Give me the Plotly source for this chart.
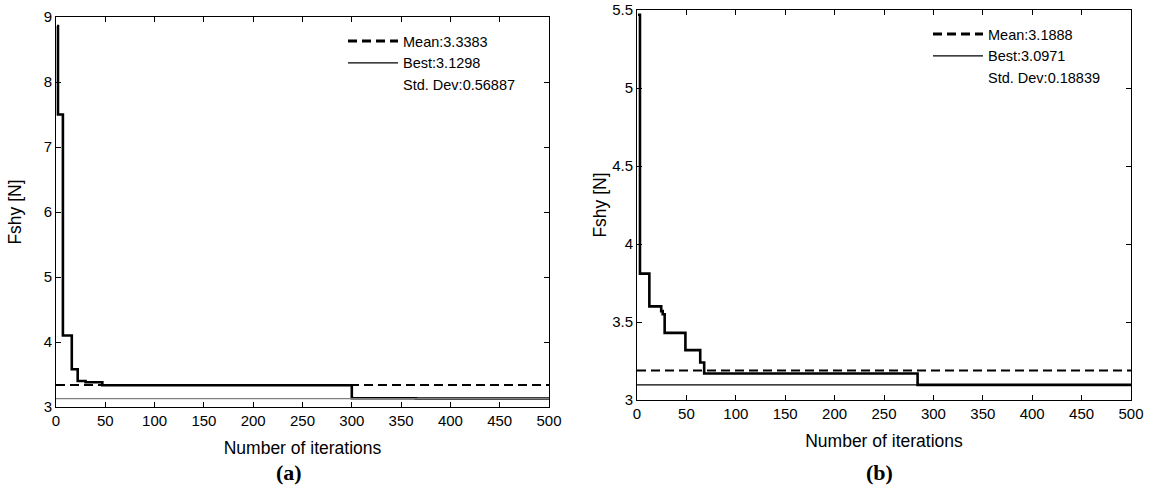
import plotly.graph_objects as go

# ---- data ----
iters_a = [1, 2, 7, 16, 22, 30, 47, 300, 365, 500]
best_so_far_a = [8.86, 7.5, 4.1, 3.58, 3.4, 3.38, 3.335, 3.135, 3.1298, 3.1298]
mean_a = 3.3383
best_a = 3.1298
std_a = 0.56887

iters_b = [1, 3, 12.5, 24.5, 26, 28, 49, 64, 68, 284, 500]
best_so_far_b = [5.47, 3.81, 3.6, 3.57, 3.55, 3.43, 3.32, 3.24, 3.17, 3.0971, 3.0971]
mean_b = 3.1888
best_b = 3.0971
std_b = 0.18839

x_range = [0, 500]
x_ticks = [0, 50, 100, 150, 200, 250, 300, 350, 400, 450, 500]
y_ticks_a = [3, 4, 5, 6, 7, 8, 9]
y_ticks_b = [3, 3.5, 4, 4.5, 5, 5.5]

FONT = "Liberation Sans, Arial, sans-serif"
SERIF = "Liberation Serif, Times New Roman, serif"
DASH = "9px,5px"

fig = go.Figure()

def add_panel(xa, ya, legend, iters, curve, mean, best, std, best_color):
    fig.add_trace(go.Scatter(x=iters, y=curve, mode="lines", line=dict(color="black", width=2.6, shape="hv"),
                             xaxis=xa, yaxis=ya, showlegend=False, hoverinfo="skip"))
    fig.add_trace(go.Scatter(x=x_range, y=[mean, mean], mode="lines", line=dict(color="black", width=2, dash=DASH),
                             xaxis=xa, yaxis=ya, showlegend=False))
    fig.add_trace(go.Scatter(x=x_range, y=[best, best], mode="lines", line=dict(color=best_color, width=1.3),
                             xaxis=xa, yaxis=ya, showlegend=False))
    fig.add_trace(go.Scatter(x=[None], y=[None], mode="lines", name=f"Mean:{mean}",
                             line=dict(color="black", width=3, dash=DASH), xaxis=xa, yaxis=ya, legend=legend))
    fig.add_trace(go.Scatter(x=[None], y=[None], mode="lines", name=f"Best:{best}",
                             line=dict(color="black", width=1.3), xaxis=xa, yaxis=ya, legend=legend))
    fig.add_trace(go.Scatter(x=[None], y=[None], mode="lines", name=f"Std. Dev:{std}",
                             line=dict(color="rgba(0,0,0,0)", width=0), xaxis=xa, yaxis=ya, legend=legend))

add_panel("x", "y", "legend", iters_a, best_so_far_a, mean_a, best_a, std_a, "#808080")
add_panel("x2", "y2", "legend2", iters_b, best_so_far_b, mean_b, best_b, std_b, "black")

W, H = 1151, 488
ML, MR, MT, MB = 56, 20, 10, 81
PW, PH = W - ML - MR, H - MT - MB

def px(x):
    return (x - ML) / PW

def py(y):
    return (H - MB - y) / PH

axis_common = dict(showline=True, linecolor="black", linewidth=1, mirror="ticks", ticks="inside",
                   ticklen=5, tickcolor="black", showgrid=False, zeroline=False, ticklabeloverflow="allow",
                   tickfont=dict(family=FONT, size=15, color="black"), automargin=False)

fig.update_layout(
    width=W, height=H,
    margin=dict(l=ML, r=MR, t=MT, b=MB),
    paper_bgcolor="white", plot_bgcolor="white",
    font=dict(family=FONT, color="black"),
    xaxis=dict(domain=[0, px(549)], range=x_range, tickvals=x_ticks, anchor="y",
               title=dict(text="Number of iterations", font=dict(size=17.5), standoff=13), **axis_common),
    yaxis=dict(domain=[0, py(17)], range=[3, 9], tickvals=y_ticks_a, anchor="x",
               title=dict(text="Fshy [N]", font=dict(size=17.5), standoff=17), **axis_common),
    xaxis2=dict(domain=[px(637), px(1131)], range=x_range, tickvals=x_ticks, anchor="y2",
                title=dict(text="Number of iterations", font=dict(size=17.5), standoff=13), **axis_common),
    yaxis2=dict(domain=[py(400), py(10)], range=[3, 5.5], tickvals=y_ticks_b, anchor="x2",
                title=dict(text="Fshy [N]", font=dict(size=17.5), standoff=1), **axis_common),
    legend=dict(x=px(343), y=py(25), xanchor="left", yanchor="top", bgcolor="rgba(0,0,0,0)",
                font=dict(family=FONT, size=14.5), itemwidth=50, tracegroupgap=0),
    legend2=dict(x=px(928), y=py(18), xanchor="left", yanchor="top", bgcolor="rgba(0,0,0,0)",
                 font=dict(family=FONT, size=14.5), itemwidth=50, tracegroupgap=0),
    annotations=[
        dict(text="<b>(a)</b>", x=px(289), y=py(473), xref="paper", yref="paper", showarrow=False,
             xanchor="center", yanchor="middle", font=dict(family=SERIF, size=22)),
        dict(text="<b>(b)</b>", x=px(880), y=py(473), xref="paper", yref="paper", showarrow=False,
             xanchor="center", yanchor="middle", font=dict(family=SERIF, size=22)),
    ],
)

# remove the default page margin so the figure fills the 1151x488 window exactly
fig.write_html("out.html", config={"displayModeBar": False},
               post_script="document.body.style.margin='0px';document.body.style.overflow='hidden';")
